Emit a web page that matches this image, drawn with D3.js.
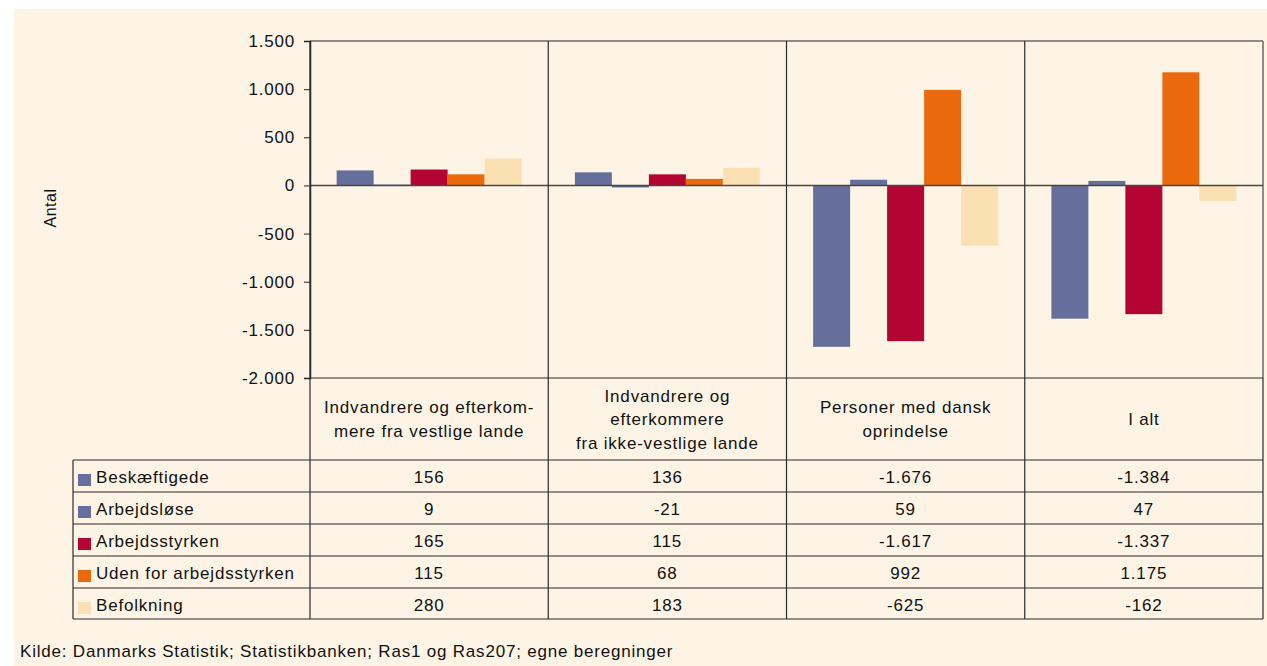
<!DOCTYPE html>
<html>
<head>
<meta charset="utf-8">
<script src="https://cdn.jsdelivr.net/npm/d3@7"></script>
<style>
  body { margin: 0; background: #fff; }
  text { font-family: "Liberation Sans", Arial, sans-serif; fill: #111; }
</style>
</head>
<body>
<svg width="1267" height="666"></svg>
<script>
var categories = ["vest", "ikkevest", "dansk", "ialt"];
var categoryLabels = [
  ["Indvandrere og efterkom-", "mere fra vestlige lande"],
  ["Indvandrere og", "efterkommere", "fra ikke-vestlige lande"],
  ["Personer med dansk", "oprindelse"],
  ["I alt"]
];
var seriesNames = ["Beskæftigede", "Arbejdsløse", "Arbejdsstyrken", "Uden for arbejdsstyrken", "Befolkning"];
var seriesColors = ["#666e9b", "#666e9b", "#b30433", "#e9690c", "#fbe0b4"];
var beskaeftigede = [156, 136, -1676, -1384];
var arbejdsloese = [9, -21, 59, 47];
var arbejdsstyrken = [165, 115, -1617, -1337];
var udenFor = [115, 68, 992, 1175];
var befolkning = [280, 183, -625, -162];
var yTicks = [-2000, -1500, -1000, -500, 0, 500, 1000, 1500];

var seriesValues = [beskaeftigede, arbejdsloese, arbejdsstyrken, udenFor, befolkning];

var locale = d3.formatLocale({decimal: ",", thousands: ".", grouping: [3], currency: ["", " kr"], minus: "-"});
var fmt = locale.format(",d");

var svg = d3.select("svg");

// baggrund
svg.append("rect")
  .attr("x", 14).attr("y", 9)
  .attr("width", 1253).attr("height", 657)
  .attr("fill", "#fdf4e6");

var plot = {left: 310, right: 1263, top: 41, bottom: 378};
var tableLeft = 73, labelRowBottom = 460, rowH = 32;

var x = d3.scaleBand().domain(categories).range([plot.left, plot.right]);
var xs = d3.scaleBand().domain(seriesNames).range([0, x.bandwidth()]).paddingOuter(0.72);
var y = d3.scaleLinear().domain([-2000, 1500]).range([plot.bottom, plot.top]);

var data = [];
seriesNames.forEach(function(s, i){
  categories.forEach(function(c, j){
    data.push({series: s, cat: c, value: seriesValues[i][j], color: seriesColors[i]});
  });
});

// bars
svg.append("g").selectAll("rect")
  .data(data)
  .enter().append("rect")
  .attr("x", function(d) { return x(d.cat) + xs(d.series); })
  .attr("y", function(d) { return y(Math.max(0, d.value)); })
  .attr("width", xs.bandwidth())
  .attr("height", function(d) { return Math.abs(y(d.value) - y(0)); })
  .attr("fill", function(d) { return d.color; });

// plot ramme
svg.append("line")
  .attr("x1", plot.left).attr("x2", plot.right)
  .attr("y1", plot.top).attr("y2", plot.top)
  .attr("stroke", "#8f8c88").attr("stroke-width", 2);
svg.append("line")
  .attr("x1", plot.right).attr("x2", plot.right)
  .attr("y1", plot.top).attr("y2", plot.bottom)
  .attr("stroke", "#8f8c88").attr("stroke-width", 2);

// nul-linje
svg.append("line")
  .attr("x1", plot.left).attr("x2", plot.right)
  .attr("y1", y(0)).attr("y2", y(0))
  .attr("stroke", "#4a4743").attr("stroke-width", 1.5);

// y akse
var yAxis = svg.append("g")
  .attr("transform", "translate(" + plot.left + ",0)")
  .call(d3.axisLeft(y).tickValues(yTicks).tickFormat(fmt).tickSize(6).tickPadding(9));
yAxis.select(".domain").attr("stroke", "#222").attr("stroke-width", 1.5);
yAxis.selectAll(".tick line").attr("stroke", "#222");
yAxis.selectAll("text")
  .style("font-family", "Liberation Sans, Arial, sans-serif")
  .style("font-size", "17px")
  .style("letter-spacing", "0.8px")
  .attr("fill", "#111");

svg.append("text")
  .attr("transform", "translate(56,208) rotate(-90)")
  .attr("text-anchor", "middle")
  .style("font-size", "16px")
  .style("letter-spacing", "0.5px")
  .text("Antal");

// tabel
var tableBottom = labelRowBottom + rowH * seriesNames.length - 1;
var lines = svg.append("g").attr("stroke", "#2a2a2a").attr("stroke-width", 1.2);

// bund af plot
lines.append("line")
  .attr("x1", plot.left).attr("x2", plot.right)
  .attr("y1", plot.bottom).attr("y2", plot.bottom);

// lodrette linjer
[plot.left].concat(categories.slice(1).map(function(c){ return x(c); })).forEach(function(xp){
  lines.append("line")
    .attr("x1", xp).attr("x2", xp)
    .attr("y1", plot.top).attr("y2", tableBottom);
});
lines.append("line")
  .attr("x1", plot.right).attr("x2", plot.right)
  .attr("y1", plot.bottom).attr("y2", tableBottom);
lines.append("line")
  .attr("x1", tableLeft).attr("x2", tableLeft)
  .attr("y1", labelRowBottom).attr("y2", tableBottom);

// vandrette linjer
d3.range(seriesNames.length + 1).forEach(function(i){
  var yy = i == seriesNames.length ? tableBottom : labelRowBottom + i * rowH;
  lines.append("line")
    .attr("x1", tableLeft).attr("x2", plot.right)
    .attr("y1", yy).attr("y2", yy);
});

// kategori labels
var lineH = 23.5;
categories.forEach(function(c, j){
  var lbl = categoryLabels[j];
  var cy = (plot.bottom + labelRowBottom) / 2;
  var t = svg.append("text")
    .attr("text-anchor", "middle")
    .style("font-size", "17px")
    .style("letter-spacing", "0.8px");
  lbl.forEach(function(l, k){
    t.append("tspan")
      .attr("x", x(c) + x.bandwidth() / 2)
      .attr("y", cy + (k - (lbl.length - 1) / 2) * lineH + 6)
      .text(l);
  });
});

// rækker
seriesNames.forEach(function(s, i){
  var top = labelRowBottom + i * rowH;
  svg.append("rect")
    .attr("x", 78).attr("y", top + 14)
    .attr("width", 13).attr("height", 12)
    .attr("fill", seriesColors[i]);
  svg.append("text")
    .attr("x", 96).attr("y", top + 23)
    .style("font-size", "17px")
    .style("letter-spacing", "0.8px")
    .text(s);
  categories.forEach(function(c, j){
    svg.append("text")
      .attr("x", x(c) + x.bandwidth() / 2)
      .attr("y", top + 23)
      .attr("text-anchor", "middle")
      .style("font-size", "17px")
      .style("letter-spacing", "0.8px")
      .text(fmt(seriesValues[i][j]));
  });
});

svg.append("text")
  .attr("x", 20).attr("y", 657)
  .style("font-size", "17px")
  .style("letter-spacing", "0.8px")
  .text("Kilde: Danmarks Statistik; Statistikbanken; Ras1 og Ras207; egne beregninger");
</script>
</body>
</html>
